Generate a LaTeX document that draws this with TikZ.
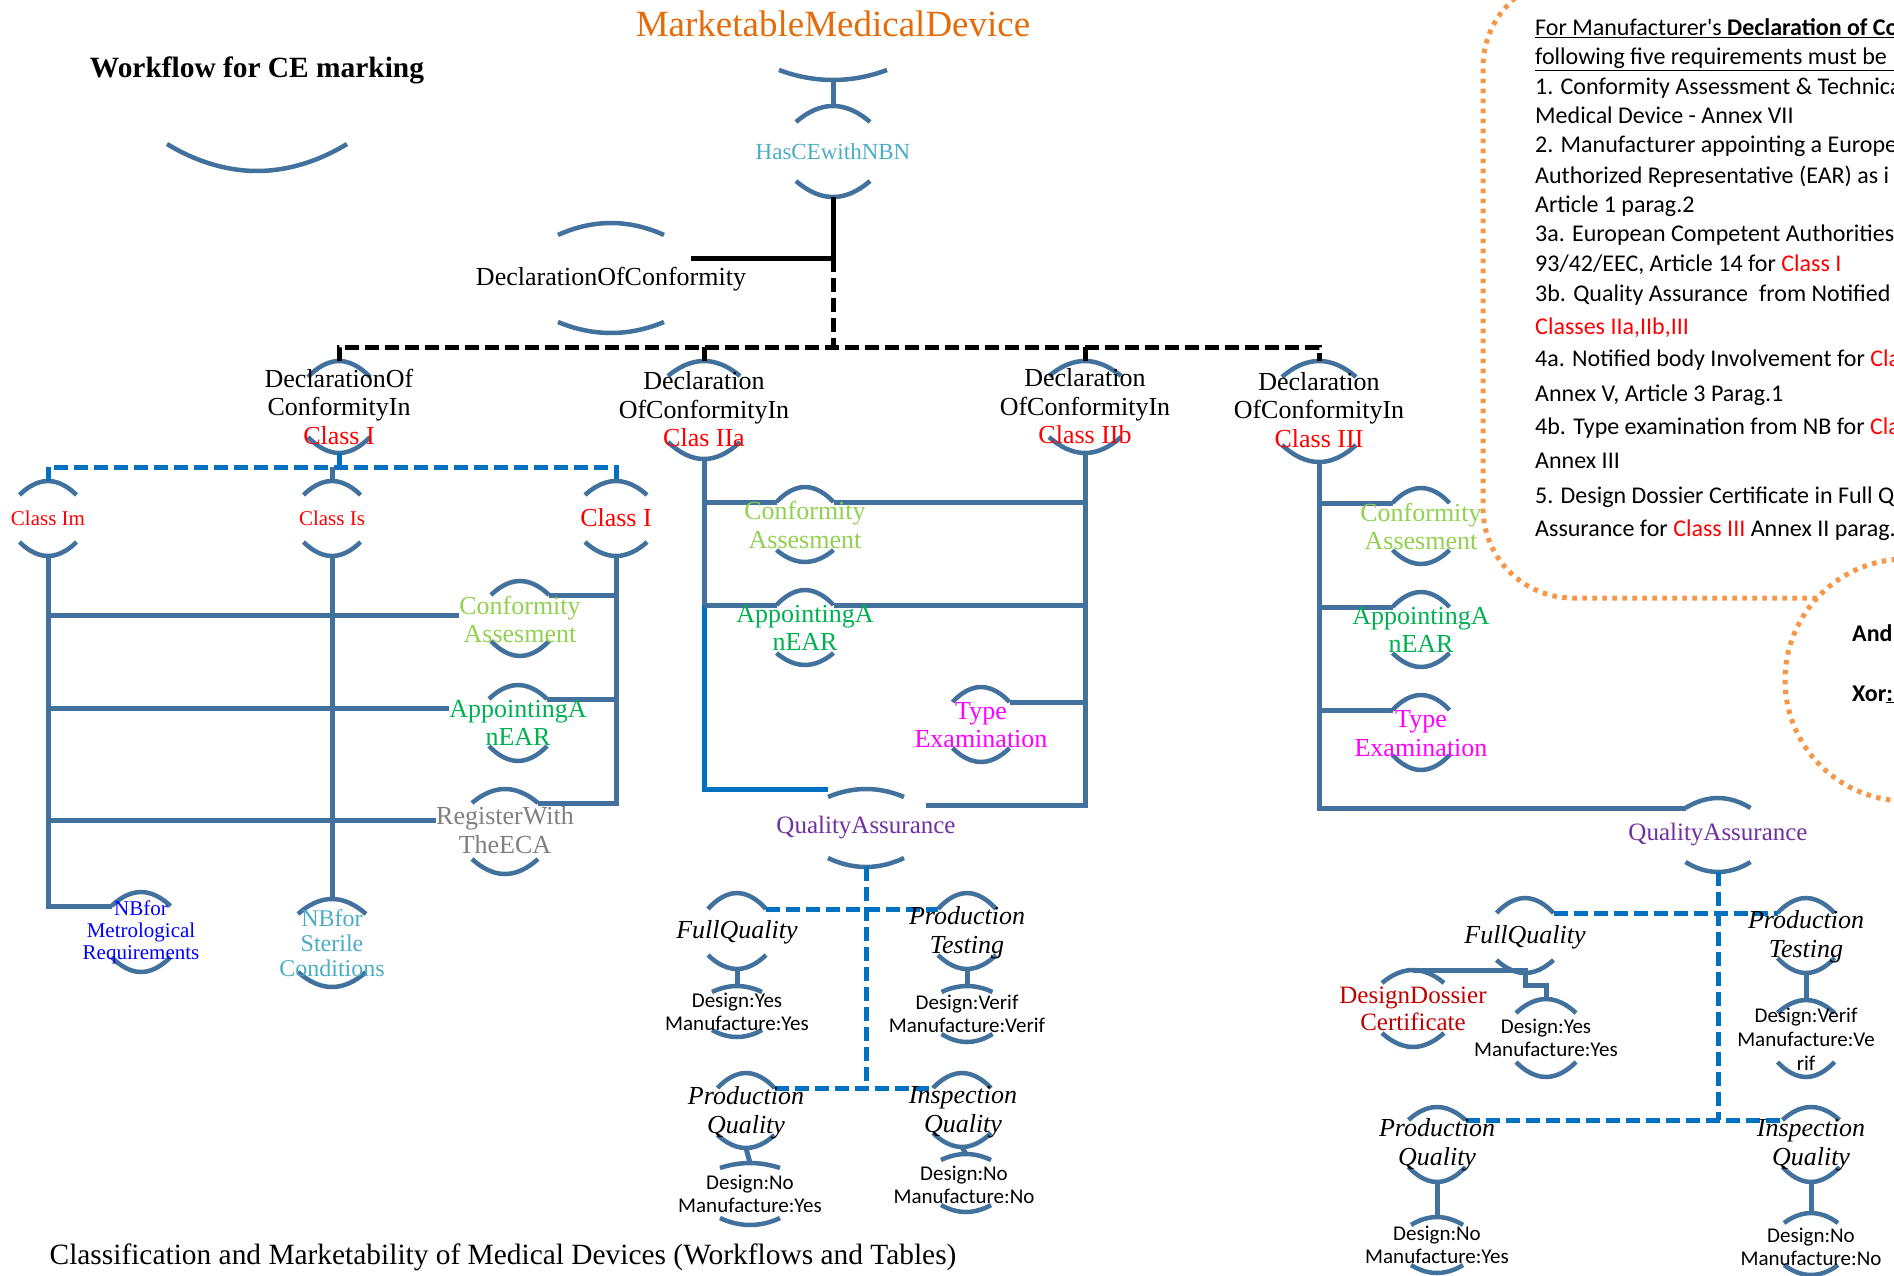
\documentclass[tikz,border=0pt]{standalone}
\usepackage{fontspec}
\setmainfont{Liberation Serif}
\newfontfamily\calfont{Carlito}
\usetikzlibrary{calc}
\pgfdeclarelayer{bg}
\pgfsetlayers{bg,main}
\definecolor{arcblue}{HTML}{41719C}
\definecolor{brightblue}{HTML}{0070C0}
\definecolor{ltgreen}{HTML}{92D050}
\definecolor{dkgreen}{HTML}{00B050}
\definecolor{magentac}{HTML}{FF00FF}
\definecolor{aquac}{HTML}{4BACC6}
\definecolor{purplec}{HTML}{7030A0}
\definecolor{darkredc}{HTML}{C00000}
\definecolor{orangec}{HTML}{E46C0A}
\definecolor{orangebox}{HTML}{F79646}
\definecolor{greyc}{HTML}{7F7F7F}
\definecolor{redc}{HTML}{FF0000}
\definecolor{pureblue}{HTML}{0000FF}
\tikzset{
 lbl/.style={inner sep=0pt, align=center, font=\fontsize{26}{28.5}\selectfont},
 smalllbl/.style={lbl, font=\fontsize{21}{22}\selectfont},
 itlbl/.style={lbl, font=\itshape\fontsize{26}{29}\selectfont},
 dtxt/.style={lbl, font=\calfont\fontsize{21}{23}\selectfont},
 arcst/.style={draw=arcblue, line width=4.5pt},
 conn/.style={draw=arcblue, line width=5pt},
 bbsolid/.style={draw=brightblue, line width=5pt},
 bbdash/.style={draw=brightblue, line width=5pt, dash pattern=on 14pt off 6pt},
 blk/.style={draw=black, line width=5pt},
 blkdash/.style={draw=black, line width=5pt, dash pattern=on 14pt off 6pt},
 obox/.style={draw=orangebox, line width=5pt, dash pattern=on 4.5pt off 5.5pt},
 boxtxt/.style={anchor=west, inner sep=0pt, font=\calfont\fontsize{24}{28}\selectfont, text height=17pt, text depth=5pt},
}
% name, x, top apex y, bottom apex y, half width, top sagitta, bottom sagitta
\newcommand\arcpair[7]{%
 \coordinate (#1-t) at (#2,#3);
 \coordinate (#1-b) at (#2,#4);
 \coordinate (#1-tl) at ({#2-#5},{#3+#6});
 \coordinate (#1-tr) at ({#2+#5},{#3+#6});
 \coordinate (#1-bl) at ({#2-#5},{#4-#7});
 \coordinate (#1-br) at ({#2+#5},{#4-#7});
 \begin{pgfonlayer}{bg}
 \draw[arcst] (#1-tl) parabola bend (#1-t) (#1-tr);
 \draw[arcst] (#1-bl) parabola bend (#1-b) (#1-br);
 \end{pgfonlayer}}
% name, x, bottom apex y, half width, sagitta
\newcommand\botarc[5]{%
 \coordinate (#1-b) at (#2,#3);
 \coordinate (#1-bl) at ({#2-#4},{#3-#5});
 \coordinate (#1-br) at ({#2+#4},{#3-#5});
 \begin{pgfonlayer}{bg}
 \draw[arcst] (#1-bl) parabola bend (#1-b) (#1-br);
 \end{pgfonlayer}}
\begin{document}
\begin{tikzpicture}[x=1pt,y=-1pt]
\useasboundingbox (0,0) rectangle (1894,1276);
% orange dotted frames
\begin{pgfonlayer}{bg}
\draw[obox, rounded corners=90pt] (2100,-23) -- (1483,-23) -- (1483,598) -- (2100,598);
\draw[obox, fill=white] (1906,680) circle[radius=121pt];
\end{pgfonlayer}
% arcs
\botarc{mmd}{833}{80}{54}{10}
\botarc{wf}{257}{171}{90}{27}
\arcpair{hce}{833}{106}{197}{37}{16}{16}
\arcpair{doc}{611}{223}{333}{53}{12}{11}
\arcpair{dc1}{339}{361}{453}{31}{16}{16}
\arcpair{dca}{704}{361}{459}{36}{15}{17}
\arcpair{dcb}{1085}{361}{453}{36}{15}{16}
\arcpair{dcc}{1319}{361}{462}{37}{16}{17}
\arcpair{cIm}{48}{481}{556}{28.5}{14}{14}
\arcpair{cIs}{332}{481}{556}{28.5}{14}{14}
\arcpair{cI}{616}{481}{556}{31}{14}{14}
\arcpair{caL}{520}{581}{656}{29}{14}{15}
\arcpair{apL}{518}{685}{761}{29}{14}{15}
\arcpair{reg}{505}{789}{874}{33}{14}{15}
\arcpair{nbm}{141}{892}{972}{29.5}{14}{15}
\arcpair{nbs}{332}{899}{987}{34}{15}{15}
\arcpair{caM}{805}{487}{562}{28.5}{15}{12}
\arcpair{apM}{805}{590}{665}{28.5}{15}{12}
\arcpair{teM}{981}{687}{762}{28.5}{15}{14}
\arcpair{qaM}{866}{789}{867}{38}{8}{9}
\arcpair{fqM}{737}{893}{969}{29}{16}{14}
\arcpair{ptM}{967}{893}{969}{29}{16}{14}
\arcpair{dyM}{737}{986}{1037}{25}{6}{7}
\arcpair{dvM}{967}{986}{1042}{25.5}{6}{8}
\arcpair{pqM}{746}{1073}{1148}{28.5}{15}{13}
\arcpair{iqM}{962}{1073}{1147}{29}{15}{14}
\arcpair{dnMa}{750}{1163}{1225}{30}{5}{7}
\arcpair{dnMb}{966}{1154}{1212}{25}{6}{7}
\arcpair{caR}{1421}{488}{564}{28.5}{15}{14}
\arcpair{apR}{1421}{592}{667}{28.5}{15}{14}
\arcpair{teR}{1421}{695}{770}{28.5}{15}{15}
\arcpair{qaR}{1718}{798}{872}{32.5}{10}{10}
\arcpair{fqR}{1525}{898}{973}{28.5}{15}{13}
\arcpair{ddR}{1413}{970}{1047}{31}{13}{14}
\arcpair{dyR}{1546}{999}{1077}{30}{14}{15}
\arcpair{ptR}{1806}{898}{973}{28.5}{15}{15}
\arcpair{dvR}{1806}{1000}{1077}{28.5}{13}{15}
\arcpair{pqR}{1437}{1107}{1182}{28.5}{13}{15}
\arcpair{iqR}{1811}{1107}{1182}{28.5}{13}{15}
\arcpair{dnRa}{1437}{1217}{1273}{26}{8}{8}
\arcpair{dnRb}{1811}{1213}{1275}{27}{10}{10}
% text nodes
\node[lbl, font=\fontsize{37}{40}\selectfont, text=orangec] (mmd) at (833,24) {MarketableMedicalDevice};
\node[lbl, font=\fontsize{29.4}{32}\selectfont\bfseries] (wf) at (257,70) {Workflow for CE marking};
\node[lbl, font=\fontsize{23}{25}\selectfont, text=aquac] (hce) at (833,152) {HasCEwithNBN};
\node[lbl] (doc) at (611,279) {DeclarationOfConformity};
\node[lbl] (dc1) at (339,406.5) {DeclarationOf\\ConformityIn\\\textcolor{redc}{Class I}};
\node[lbl] (dca) at (704,409.5) {Declaration\\OfConformityIn\\\textcolor{redc}{Clas IIa}};
\node[lbl] (dcb) at (1085,406.5) {Declaration\\OfConformityIn\\\textcolor{redc}{Class IIb}};
\node[lbl] (dcc) at (1319,410) {Declaration\\OfConformityIn\\\textcolor{redc}{Class III}};
\node[smalllbl, text=redc] (cIm) at (48,518) {Class Im};
\node[smalllbl, text=redc] (cIs) at (332,518) {Class Is};
\node[lbl, text=redc] (cI) at (616,518) {Class I};
\node[lbl, text=ltgreen] (caL) at (520,619.5) {Conformity\\Assesment};
\node[lbl, text=dkgreen] (apL) at (518,723) {AppointingA\\nEAR};
\node[lbl, text=greyc] (reg) at (505,830) {RegisterWith\\TheECA};
\node[smalllbl, text=pureblue] (nbm) at (141,932) {NBfor\\Metrological\\Requirements};
\node[lbl, font=\fontsize{24}{25}\selectfont, text=aquac] (nbs) at (332,943) {NBfor\\Sterile\\Conditions};
\node[lbl, text=ltgreen] (caM) at (805,525) {Conformity\\Assesment};
\node[lbl, text=dkgreen] (apM) at (805,628) {AppointingA\\nEAR};
\node[lbl, text=magentac] (teM) at (981,725) {Type\\Examination};
\node[lbl, font=\fontsize{25}{27}\selectfont, text=purplec] (qaM) at (866,828) {QualityAssurance};
\node[itlbl] (fqM) at (737,932) {FullQuality};
\node[itlbl] (ptM) at (967,932.5) {Production\\Testing};
\node[dtxt] (dyM) at (737,1011.5) {Design:Yes\\Manufacture:Yes};
\node[dtxt] (dvM) at (967,1013.5) {Design:Verif\\Manufacture:Verif};
\node[itlbl] (pqM) at (746,1112.5) {Production\\Quality};
\node[itlbl] (iqM) at (963,1112.5) {Inspection\\Quality};
\node[dtxt] (dnMa) at (750,1193.5) {Design:No\\Manufacture:Yes};
\node[dtxt] (dnMb) at (964,1184.5) {Design:No\\Manufacture:No};
\node[lbl, text=ltgreen] (caR) at (1421,526.5) {Conformity\\Assesment};
\node[lbl, text=dkgreen] (apR) at (1421,630) {AppointingA\\nEAR};
\node[lbl, text=magentac] (teR) at (1421,733.5) {Type\\Examination};
\node[lbl, font=\fontsize{25}{27}\selectfont, text=purplec] (qaR) at (1718,835) {QualityAssurance};
\node[itlbl] (fqR) at (1525,937) {FullQuality};
\node[lbl, font=\fontsize{25}{27}\selectfont, text=darkredc] (ddR) at (1413,1008.5) {DesignDossier\\Certificate};
\node[dtxt] (dyR) at (1546,1037.5) {Design:Yes\\Manufacture:Yes};
\node[itlbl] (ptR) at (1806,936.5) {Production\\Testing};
\node[dtxt, font=\calfont\fontsize{21}{24}\selectfont] (dvR) at (1806,1039) {Design:Verif\\Manufacture:Ve\\rif};
\node[itlbl] (pqR) at (1437,1145) {Production\\Quality};
\node[itlbl] (iqR) at (1811,1145) {Inspection\\Quality};
\node[dtxt] (dnRa) at (1437,1245) {Design:No\\Manufacture:Yes};
\node[dtxt] (dnRb) at (1811,1246.5) {Design:No\\Manufacture:No};
\node[lbl, font=\fontsize{29.4}{32}\selectfont] (cap) at (503,1257) {Classification and Marketability of Medical Devices (Workflows and Tables)};
% requirement box text
\node[boxtxt] (bx1) at (1535,30) {\underline{For Manufacturer's \textbf{Declaration of Co}}};
\node[boxtxt] (bx2) at (1535,59) {\underline{following five requirements must be\ \ }};
\node[boxtxt] (bx3) at (1535,89) {1. Conformity Assessment \& Technica};
\node[boxtxt] (bx4) at (1535,118) {Medical Device - Annex VII};
\node[boxtxt] (bx5) at (1535,147) {2. Manufacturer appointing a Europe};
\node[boxtxt] (bx6) at (1535,177) {Authorized Representative (EAR) as i};
\node[boxtxt] (bx7) at (1535,206) {Article 1 parag.2};
\node[boxtxt] (bx8) at (1535,235) {3a. European Competent Authorities};
\node[boxtxt] (bx9) at (1535,265) {93/42/EEC, Article 14 for \textcolor{redc}{Class I}};
\node[boxtxt] (bx10) at (1535,295) {3b. Quality Assurance\ \ from Notified};
\node[boxtxt, text=redc] (bx11) at (1535,328) {Classes IIa,IIb,III};
\node[boxtxt] (bx12) at (1535,360) {4a. Notified body Involvement for \textcolor{redc}{Cla}};
\node[boxtxt] (bx13) at (1535,395) {Annex V, Article 3 Parag.1};
\node[boxtxt] (bx14) at (1535,428) {4b. Type examination from NB for \textcolor{redc}{Cla}};
\node[boxtxt] (bx15) at (1535,462) {Annex III};
\node[boxtxt] (bx16) at (1535,497) {5. Design Dossier Certificate in Full Q};
\node[boxtxt] (bx17) at (1535,530) {Assurance for \textcolor{redc}{Class III} Annex II parag.};
\node[boxtxt, font=\calfont\bfseries\fontsize{24}{28}\selectfont] (andl) at (1852,635) {And:};
\node[boxtxt, font=\calfont\bfseries\fontsize{24}{28}\selectfont] (xorl) at (1852,695) {Xor\underline{:\hspace{30pt}}};
% connectors
\coordinate (j0) at (833,258);
\coordinate (j1) at (833,347);
\coordinate (docr) at (691,258);
\coordinate (j2) at (339,467);
\coordinate (caLw) at ([yshift=4.5pt]caL.west);
\coordinate (apLw) at ([yshift=15pt]apL.west);
\coordinate (regw) at ([yshift=10pt]reg.west);
\begin{pgfonlayer}{bg}
\draw[conn] (mmd-b) -- (hce-t);
\draw[blk] (hce-b) -- (j0) -- (docr);
\draw[blkdash] (j0) -- (j1);
\draw[blkdash] (dc1-t) -- (dc1-t |- j1) -- (dcc-t |- j1) -- (dcc-t);
\draw[blkdash] (dca-t |- j1) -- (dca-t);
\draw[blkdash] (dcb-t |- j1) -- (dcb-t);
% class I group
\draw[bbsolid] (dc1-b) -- (j2);
\draw[bbdash] (cIm-t) -- (cIm-t |- j2) -- (cI-t |- j2) -- (cI-t);
\draw[conn] (cIs-t) -- (cIs-t |- j2);
\draw[conn] (cIm-b) |- (nbm-tl);
\draw[conn] (cIs-b) -- (nbs-t);
\draw[conn] (caLw) -- (caLw -| cIm-b);
\draw[conn] (apLw) -- (apLw -| cIm-b);
\draw[conn] (regw) -- (regw -| cIm-b);
\draw[conn] (cI-b) |- (reg-tr);
\draw[conn] (cI-b |- caL-tr) -- (caL-tr);
\draw[conn] (cI-b |- apL-tr) -- (apL-tr);
% class IIa / IIb group
\draw[conn] (dca-b) -- (dca-b |- apM-tl);
\draw[bbsolid] (dca-b |- apM-tl) -- (dca-b |- qaM-t) -- (qaM-tl |- qaM-t);
\draw[conn] (dca-b |- caM-tl) -- (caM-tl);
\draw[conn] (caM-tr) -- (caM-tr -| dcb-b);
\draw[conn] (dca-b |- apM-tl) -- (apM-tl);
\draw[conn] (apM-tr) -- (apM-tr -| dcb-b);
\draw[conn] (dcb-b) |- ([xshift=22pt,yshift=-8pt]qaM-tr);
\draw[conn] (teM-tr) -- (teM-tr -| dcb-b);
\draw[bbdash] (qaM-b) -- (qaM-b |- pqM-tr);
\draw[bbdash] (fqM-tr) -- (ptM-tl);
\draw[bbdash] (pqM-tr) -- (iqM-tl);
\draw[conn] (fqM-b) -- (dyM-t);
\draw[conn] (ptM-b) -- (dvM-t);
\draw[conn] (pqM-b) -- (dnMa-t);
\draw[conn] (iqM-b) -- (dnMb-t);
% class III group
\draw[conn] (dcc-b) |- (qaR-tl);
\draw[conn] (dcc-b |- caR-tl) -- (caR-tl);
\draw[conn] (dcc-b |- apR-tl) -- (apR-tl);
\draw[conn] (dcc-b |- teR-tl) -- (teR-tl);
\draw[bbdash] (qaR-b) -- (qaR-b |- pqR-tr);
\draw[bbdash] (fqR-tr) -- (ptR-tl);
\draw[bbdash] (pqR-tr) -- (iqR-tl);
\draw[conn] (ddR-t) -- (fqR-b |- ddR-t) -- ([yshift=-12pt]fqR-b) -| (dyR-t);
\draw[conn] (ptR-b) -- (dvR-t);
\draw[conn] (pqR-b) -- (dnRa-t);
\draw[conn] (iqR-b) -- (dnRb-t);
\end{pgfonlayer}
\end{tikzpicture}
\end{document}
